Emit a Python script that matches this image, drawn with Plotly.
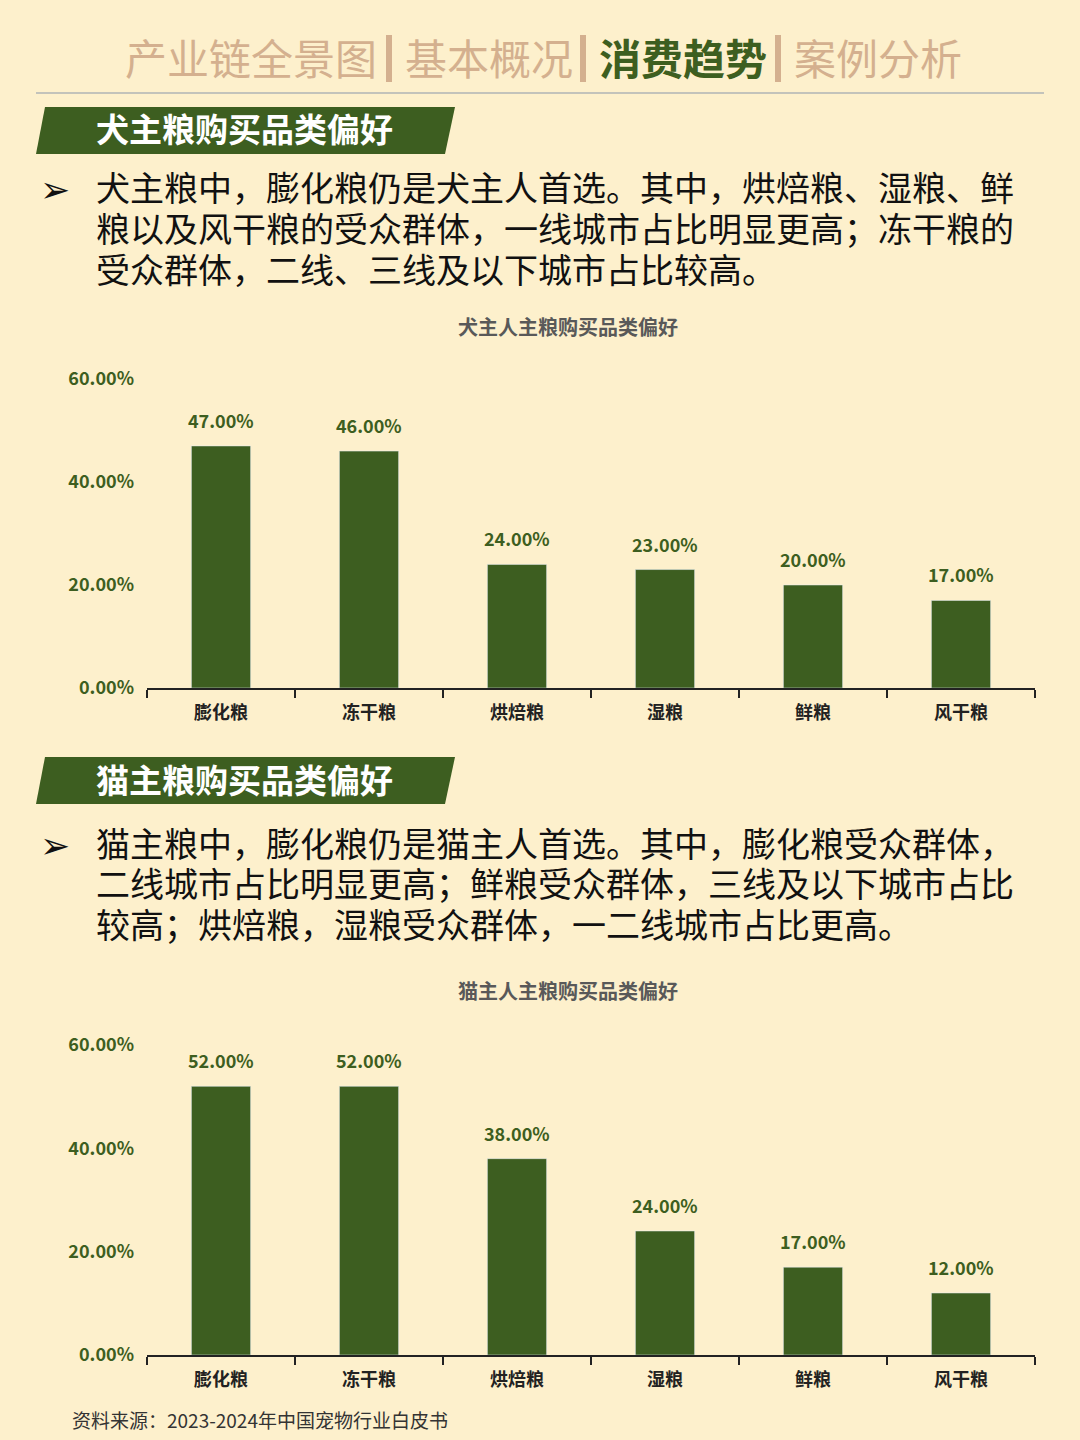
import plotly.graph_objects as go

W, H = 1080, 1440

# ---------------- data ----------------
categories = ["膨化粮", "冻干粮", "烘焙粮", "湿粮", "鲜粮", "风干粮"]
dog_values = [0.47, 0.46, 0.24, 0.23, 0.20, 0.17]
cat_values = [0.52, 0.52, 0.38, 0.24, 0.17, 0.12]
y_ticks = [0, 0.2, 0.4, 0.6]

nav_items = ["产业链全景图", "基本概况", "消费趋势", "案例分析"]
nav_active = "消费趋势"

dog_banner = "犬主粮购买品类偏好"
cat_banner = "猫主粮购买品类偏好"
dog_lines = ["犬主粮中，膨化粮仍是犬主人首选。其中，烘焙粮、湿粮、鲜",
             "粮以及风干粮的受众群体，一线城市占比明显更高；冻干粮的",
             "受众群体，二线、三线及以下城市占比较高。"]
cat_lines = ["猫主粮中，膨化粮仍是猫主人首选。其中，膨化粮受众群体，",
             "二线城市占比明显更高；鲜粮受众群体，三线及以下城市占比",
             "较高；烘焙粮，湿粮受众群体，一二线城市占比更高。"]
dog_title = "犬主人主粮购买品类偏好"
cat_title = "猫主人主粮购买品类偏好"
source = "资料来源：2023-2024年中国宠物行业白皮书"

# ---------------- style ----------------
BG = "#fdf0cc"
GREEN = "#3d5e20"
TAN = "#d4b08f"
FONT = "Noto Sans CJK SC"


def px(x):
    return x / W


def py(y):
    return 1 - y / H


fig = go.Figure()

fig.add_trace(go.Bar(x=categories, y=dog_values, marker_color=GREEN,
                     width=0.4, xaxis="x", yaxis="y", hoverinfo="skip"))
fig.add_trace(go.Bar(x=categories, y=cat_values, marker_color=GREEN,
                     width=0.4, xaxis="x2", yaxis="y2", hoverinfo="skip"))

xdom = [px(147), px(1035)]
common_x = dict(type="category", showline=True, linecolor="#222222", linewidth=1.5,
                ticks="outside", tickson="boundaries", ticklen=8, tickcolor="#222222",
                tickwidth=1.5, showgrid=False, zeroline=False, automargin=False,
                ticklabelstandoff=8,
                tickfont=dict(family=FONT, size=18, color="#222222", weight="bold"),
                domain=xdom, fixedrange=True)
common_y = dict(range=[0, 0.6], tickvals=y_ticks, tickformat=".2%", showgrid=False,
                showline=False, zeroline=False, ticks="", ticklabelstandoff=12,
                automargin=False,
                tickfont=dict(family=FONT, size=18, color=GREEN, weight="bold"),
                fixedrange=True)

fig.update_layout(
    width=W, height=H, margin=dict(l=0, r=0, t=0, b=0, pad=0, autoexpand=False),
    paper_bgcolor=BG, plot_bgcolor=BG, showlegend=False,
    xaxis=dict(common_x, anchor="y"),
    yaxis=dict(common_y, anchor="x", domain=[py(688), py(379)]),
    xaxis2=dict(common_x, anchor="y2"),
    yaxis2=dict(common_y, anchor="x2", domain=[py(1355), py(1045)]),
)

annotations = []
shapes = []

# value labels
for xa, ya, vals in (("x", "y", dog_values), ("x2", "y2", cat_values)):
    for c, v in zip(categories, vals):
        annotations.append(dict(x=c, y=v, xref=xa, yref=ya, text=f"{v*100:.2f}%",
                                showarrow=False, yanchor="bottom", yshift=11,
                                font=dict(family=FONT, size=18, color=GREEN, weight="bold")))

# header nav
nav_x = [123, 403, 597, 792]
for name, x0 in zip(nav_items, nav_x):
    active = name == nav_active
    annotations.append(dict(x=px(x0), y=py(57), xref="paper", yref="paper", text=name,
                            showarrow=False, xanchor="left", yanchor="middle",
                            font=dict(family=FONT, size=42,
                                      color=GREEN if active else TAN,
                                      weight="bold" if active else "normal")))
for bx in [389, 583, 778]:
    shapes.append(dict(type="rect", xref="paper", yref="paper",
                       x0=px(bx - 3), x1=px(bx + 3), y0=py(82), y1=py(35),
                       fillcolor=TAN, line=dict(width=0)))
shapes.append(dict(type="line", xref="paper", yref="paper", x0=px(36), x1=px(1044),
                   y0=py(93), y1=py(93), line=dict(color="#c3c3bb", width=2)))


def banner(ytop, ybot, text):
    path = (f"M {px(36)} {py(ybot)} L {px(45)} {py(ytop)} L {px(455)} {py(ytop)} "
            f"L {px(445)} {py(ybot)} Z")
    shapes.append(dict(type="path", xref="paper", yref="paper", path=path,
                       fillcolor=GREEN, line=dict(width=0)))
    annotations.append(dict(x=px(94), y=py((ytop + ybot) / 2 - 2), xref="paper", yref="paper",
                            text=text, showarrow=False, xanchor="left", yanchor="middle",
                            font=dict(family=FONT, size=33, color="white", weight="bold")))


def body(lines, y0):
    annotations.append(dict(x=px(38), y=py(y0), xref="paper", yref="paper", text="➢",
                            showarrow=False, xanchor="left", yanchor="middle",
                            font=dict(family="DejaVu Sans", size=36, color="#111111")))
    for i, ln in enumerate(lines):
        annotations.append(dict(x=px(94), y=py(y0 - 3 + 40.5 * i), xref="paper", yref="paper",
                                text=ln, showarrow=False, xanchor="left", yanchor="middle",
                                font=dict(family=FONT, size=34, color="#111111")))


def title(y, text):
    annotations.append(dict(x=px(568), y=py(y), xref="paper", yref="paper", text=text,
                            showarrow=False, xanchor="center", yanchor="middle",
                            font=dict(family=FONT, size=20, color="#595959", weight="bold")))


banner(107, 154, dog_banner)
body(dog_lines, 190)
title(327, dog_title)
banner(757, 804, cat_banner)
body(cat_lines, 845)
title(990, cat_title)

annotations.append(dict(x=px(70), y=py(1419), xref="paper", yref="paper", text=source,
                        showarrow=False, xanchor="left", yanchor="middle",
                        font=dict(family=FONT, size=19, color="#333333")))

fig.update_layout(annotations=annotations, shapes=shapes)

fig.write_html("out.html")
